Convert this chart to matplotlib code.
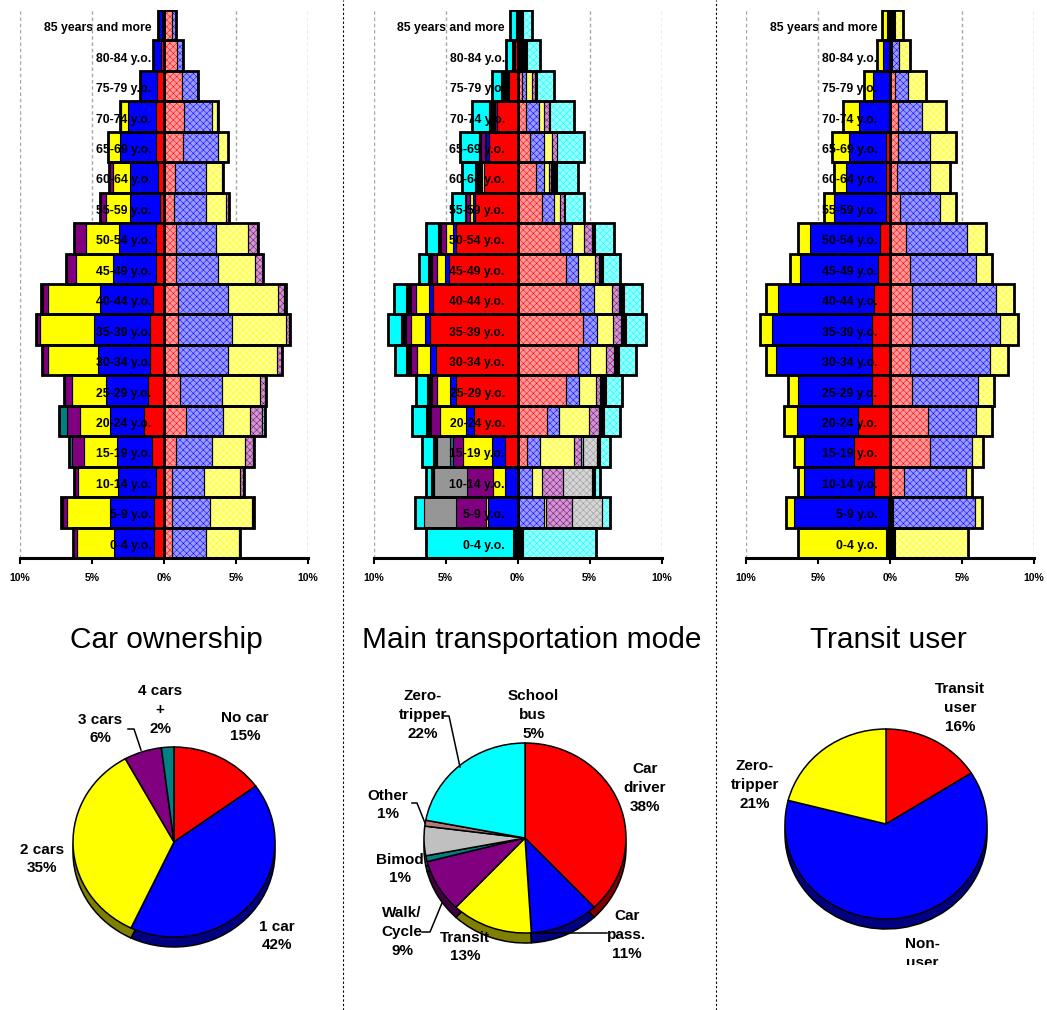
import numpy as np
import matplotlib
matplotlib.use("Agg")
import matplotlib.pyplot as plt
from matplotlib.lines import Line2D
from matplotlib.colors import to_rgb

plt.rcParams['font.family'] = ['Liberation Sans', 'DejaVu Sans']
plt.rcParams['hatch.linewidth'] = 0.35

W, H = 1047, 1010
fig = plt.figure(figsize=(W / 100, H / 100), dpi=100)

# ---------------------------------------------------------------- data
age_groups = ["0-4 y.o.", "5-9 y.o.", "10-14 y.o.", "15-19 y.o.", "20-24 y.o.",
              "25-29 y.o.", "30-34 y.o.", "35-39 y.o.", "40-44 y.o.", "45-49 y.o.",
              "50-54 y.o.", "55-59 y.o.", "60-64 y.o.", "65-69 y.o.", "70-74 y.o.",
              "75-79 y.o.", "80-84 y.o.", "85 years and more"]
tick_values = [-10, -5, 0, 5, 10]
tick_labels = ["10%", "5%", "0%", "5%", "10%"]

# Car ownership by age (% of population), left = men, right = women
own_left_nocar = [0.69, 0.69, 0.55, 0.81, 1.39, 1.09, 0.97, 0.97, 0.79, 0.55, 0.55, 0.28, 0.39, 0.55, 0.55, 0.50, 0.23, 0.16]
own_left_1car = [2.78, 3.06, 2.61, 2.43, 2.36, 2.94, 3.63, 3.89, 3.66, 2.96, 2.55, 2.08, 1.97, 2.50, 1.92, 1.16, 0.50, 0.23]
own_left_2cars = [2.59, 3.01, 2.78, 2.31, 2.08, 2.38, 3.43, 3.75, 3.59, 2.59, 2.31, 1.67, 1.20, 0.81, 0.53, 0, 0, 0]
own_left_3cars = [0.23, 0.23, 0.23, 0.86, 0.93, 0.46, 0.39, 0.23, 0.39, 0.65, 0.83, 0.42, 0.23, 0, 0, 0, 0, 0]
own_left_4cars = [0, 0, 0, 0.16, 0.51, 0, 0, 0, 0, 0, 0, 0, 0, 0, 0, 0, 0, 0]
own_left_na = [0, 0.13, 0.08, 0, 0, 0.08, 0.08, 0.08, 0.08, 0.08, 0, 0, 0, 0.04, 0.05, 0, 0, 0.04]

own_right_nocar = [0.53, 0.53, 0.53, 0.83, 1.53, 1.11, 1.00, 1.00, 1.00, 0.83, 0.83, 0.69, 0.76, 1.34, 1.41, 1.23, 0.88, 0.58]
own_right_1car = [2.38, 2.66, 2.27, 2.48, 2.59, 2.89, 3.47, 3.70, 3.47, 2.94, 2.78, 2.22, 2.15, 2.43, 1.90, 1.16, 0.42, 0.23]
own_right_2cars = [2.31, 2.89, 2.48, 2.31, 1.85, 2.66, 3.36, 3.77, 3.43, 2.55, 2.25, 1.39, 1.09, 0.65, 0.40, 0, 0, 0]
own_right_3cars = [0, 0, 0.23, 0.58, 0.81, 0.35, 0.35, 0.23, 0.46, 0.58, 0.63, 0.23, 0, 0, 0, 0, 0, 0]
own_right_4cars = [0, 0, 0, 0, 0.23, 0, 0, 0, 0.10, 0, 0, 0, 0.08, 0, 0, 0, 0, 0]
own_right_na = [0.06, 0.20, 0.08, 0.04, 0, 0.08, 0, 0.08, 0.03, 0, 0.04, 0, 0, 0, 0.04, 0, 0.05, 0.04]

# Main transportation mode by age
mode_left_driver = [0, 0, 0, 0.90, 2.99, 4.30, 5.65, 6.10, 5.85, 4.79, 4.26, 2.94, 2.31, 1.97, 1.39, 0.58, 0.16, 0]
mode_left_pass = [0, 2.05, 0.90, 0.85, 0.58, 0.37, 0.42, 0.35, 0.32, 0.23, 0.23, 0.12, 0, 0.19, 0, 0, 0, 0]
mode_left_transit = [0, 0.15, 0.82, 2.05, 1.80, 0.93, 0.93, 0.93, 0.85, 0.58, 0.50, 0.23, 0.19, 0.10, 0, 0, 0, 0]
mode_left_walk = [0, 2.05, 1.80, 0.68, 0.65, 0.37, 0.37, 0.35, 0.35, 0.37, 0.30, 0.28, 0, 0.25, 0.19, 0, 0, 0]
mode_left_bimod = [0, 0, 0, 0.20, 0, 0, 0, 0, 0, 0, 0, 0, 0, 0, 0, 0, 0, 0]
mode_left_school = [0, 2.25, 2.25, 0.92, 0, 0, 0, 0, 0, 0, 0, 0, 0, 0, 0, 0, 0, 0]
mode_left_other = [0] * 18
mode_left_na = [0.28, 0, 0.22, 0.25, 0.32, 0.32, 0.39, 0.35, 0.39, 0.23, 0.25, 0.10, 0.45, 0.15, 0.39, 0.58, 0.23, 0.10]
mode_left_zero = [6.06, 0.65, 0.35, 0.79, 1.00, 0.75, 0.76, 0.90, 0.80, 0.63, 0.79, 0.88, 0.92, 1.30, 1.16, 0.62, 0.39, 0.42]

mode_right_driver = [0, 0, 0, 0.63, 2.08, 3.38, 4.17, 4.58, 4.35, 3.38, 2.92, 1.69, 1.27, 0.88, 0.60, 0.30, 0, 0]
mode_right_pass = [0, 1.81, 1.00, 0.95, 0.82, 0.87, 0.89, 0.97, 0.98, 0.81, 0.86, 0.86, 0.60, 0.97, 0.86, 0.30, 0, 0]
mode_right_transit = [0, 0.20, 0.72, 2.31, 2.05, 1.20, 1.10, 1.10, 1.25, 1.20, 0.81, 0.37, 0.35, 0.53, 0.35, 0.39, 0, 0]
mode_right_walk = [0, 1.74, 1.45, 0.53, 0.68, 0.28, 0.51, 0.51, 0.46, 0.30, 0.58, 0.30, 0.10, 0.39, 0.35, 0.23, 0, 0]
mode_right_bimod = [0, 0, 0, 0.15, 0, 0, 0, 0, 0, 0, 0, 0, 0, 0, 0, 0, 0, 0]
mode_right_school = [0, 2.12, 1.97, 0.95, 0, 0, 0, 0, 0, 0, 0, 0, 0, 0, 0, 0, 0, 0]
mode_right_other = [0] * 18
mode_right_na = [0.37, 0, 0.23, 0.22, 0.39, 0.42, 0.35, 0.35, 0.39, 0.23, 0.23, 0.10, 0.45, 0, 0.10, 0.10, 0.65, 0.37]
mode_right_zero = [5.07, 0.57, 0.35, 0.70, 1.10, 1.10, 1.20, 1.40, 1.25, 1.20, 1.32, 1.32, 1.45, 1.85, 1.67, 1.20, 0.88, 0.63]

# Transit use by age
tu_left_na = [0.30, 0.16, 0, 0, 0, 0, 0, 0, 0, 0, 0, 0, 0, 0, 0, 0, 0.10, 0.23]
tu_left_user = [0, 0, 1.11, 2.48, 2.25, 1.23, 1.23, 1.23, 1.11, 0.81, 0.69, 0.28, 0.28, 0.28, 0.05, 0, 0, 0]
tu_left_non = [0, 6.50, 4.84, 3.47, 4.24, 5.19, 6.69, 6.94, 6.64, 5.44, 4.86, 3.61, 2.78, 2.55, 2.13, 1.20, 0.42, 0]
tu_left_zero = [6.06, 0.56, 0.42, 0.72, 0.88, 0.65, 0.69, 0.86, 0.86, 0.69, 0.81, 0.69, 0.83, 1.18, 1.06, 0.60, 0.35, 0.30]

tu_right_na = [0.35, 0.19, 0, 0, 0, 0, 0, 0, 0, 0, 0, 0, 0, 0, 0, 0, 0.15, 0.35]
tu_right_user = [0, 0, 0.97, 2.78, 2.66, 1.55, 1.39, 1.55, 1.55, 1.39, 1.11, 0.69, 0.46, 0.58, 0.58, 0.35, 0, 0]
tu_right_non = [0, 5.72, 4.31, 2.94, 3.31, 4.54, 5.56, 6.09, 5.81, 4.58, 4.21, 2.78, 2.31, 2.20, 1.67, 0.93, 0.45, 0]
tu_right_zero = [5.09, 0.46, 0.39, 0.72, 1.09, 1.13, 1.27, 1.27, 1.25, 1.13, 1.34, 1.11, 1.39, 1.78, 1.62, 1.20, 0.80, 0.58]

# Pie shares (%)
car_names = ["No car", "1 car", "2 cars", "3 cars", "4 cars\n+"]
car_share = [15, 42, 35, 6, 2]
mode_names = ["Car\ndriver", "Car\npass.", "Transit", "Walk/\nCycle", "Bimod",
              "School\nbus", "Other", "Zero-\ntripper"]
mode_share = [38, 11, 13, 9, 1, 5, 1, 22]
tu_names = ["Transit\nuser", "Non-\nuser", "Zero-\ntripper"]
tu_share = [16, 63, 21]

# ---------------------------------------------------------------- styles
RED, BLUE, YELLOW, PURPLE = "#FF0000", "#0000FF", "#FFFF00", "#800080"
TEAL, CYAN, GRAY, BLACK = "#008080", "#00FFFF", "#969696", "#000000"
ROSY = "#B07A7A"
LIGHTGRAY = "#C0C0C0"


def tint(c, f=0.6):
    r, g, b = to_rgb(c)
    return (f + (1 - f) * r, f + (1 - f) * g, f + (1 - f) * b)


def shade(c, f=0.5):
    r, g, b = to_rgb(c)
    return (r * f, g * f, b * f)


def px_fig(x, y):
    return x / W, 1 - y / H


def draw_pyramid(x_left, left_series, right_series, colors):
    x0, y0 = px_fig(x_left, 558)
    ax = fig.add_axes([x0, y0, 288 / W, 548 / H])
    y = np.arange(len(age_groups))
    for sign, series in ((-1, left_series), (1, right_series)):
        start = np.zeros(len(y))
        for vals, col in zip(series, colors):
            vals = np.asarray(vals, float)
            m = vals > 0
            if m.any():
                if sign < 0 or col == BLACK:
                    ax.barh(y[m], sign * vals[m], left=sign * start[m], height=1.0,
                            color=col, edgecolor="black", linewidth=0.8, zorder=2)
                else:
                    # women: dithered lighter fill
                    ax.barh(y[m], sign * vals[m], left=sign * start[m], height=1.0,
                            color=tint(col), edgecolor=col, hatch="xxxxx",
                            linewidth=0, zorder=2)
                    ax.barh(y[m], sign * vals[m], left=sign * start[m], height=1.0,
                            fill=False, edgecolor="black", linewidth=0.8, zorder=3)
            start = start + vals
        ax.barh(y, sign * start, height=1.0, fill=False, edgecolor="black",
                linewidth=2.0, zorder=4)
    for yi, lab in zip(y, age_groups):
        ax.text(-0.88, yi - 0.1, lab, ha="right", va="center", fontsize=8.8,
                fontweight="bold", color="black", zorder=6)
    for xv in (-10, -5, 5, 10):
        ax.axvline(xv, color="#a8a8a8", lw=1.0, ls=(0, (2.5, 2)), zorder=0)
    ax.set_xlim(-10, 10)
    ax.set_ylim(-0.5, len(age_groups) - 0.5)
    ax.set_yticks([])
    ax.set_xticks(tick_values)
    ax.set_xticklabels(tick_labels, fontsize=7.5, fontweight="bold")
    ax.tick_params(axis="x", length=4, width=1.5, pad=6.5, color="black")
    for s in ("top", "left", "right"):
        ax.spines[s].set_visible(False)
    ax.spines["bottom"].set_linewidth(2.2)
    ax.patch.set_alpha(0)
    return ax


draw_pyramid(20,
             [own_left_nocar, own_left_1car, own_left_2cars, own_left_3cars, own_left_4cars, own_left_na],
             [own_right_nocar, own_right_1car, own_right_2cars, own_right_3cars, own_right_4cars, own_right_na],
             [RED, BLUE, YELLOW, PURPLE, TEAL, BLACK])
draw_pyramid(373.5,
             [mode_left_driver, mode_left_pass, mode_left_transit, mode_left_walk, mode_left_bimod,
              mode_left_school, mode_left_other, mode_left_na, mode_left_zero],
             [mode_right_driver, mode_right_pass, mode_right_transit, mode_right_walk, mode_right_bimod,
              mode_right_school, mode_right_other, mode_right_na, mode_right_zero],
             [RED, BLUE, YELLOW, PURPLE, TEAL, GRAY, ROSY, BLACK, CYAN])
draw_pyramid(746,
             [tu_left_na, tu_left_user, tu_left_non, tu_left_zero],
             [tu_right_na, tu_right_user, tu_right_non, tu_right_zero],
             [BLACK, RED, BLUE, YELLOW])

# ---------------------------------------------------------------- titles
for cx, title in ((166.5, "Car ownership"), (531.5, "Main transportation mode"),
                  (888.5, "Transit user")):
    fig.text(*px_fig(cx, 648), title, ha="center", va="baseline", fontsize=21.5)

# panel separators
for xs in (343, 716):
    fig.add_artist(Line2D([xs / W, xs / W], [0, 1], transform=fig.transFigure,
                          color="black", lw=0.8, ls=(0, (2, 2))))

# ---------------------------------------------------------------- pies
RX, RY, DEPTH = 101.0, 95.0, 10.0
K = RY / RX
PIE_TOP, PIE_BOTTOM = 660, 965


def draw_pie(x0, x1, center, values, colors):
    fx, fy = px_fig(x0, PIE_BOTTOM)
    ax = fig.add_axes([fx, fy, (x1 - x0) / W, (PIE_BOTTOM - PIE_TOP) / H])
    cx, cy = center
    wp = dict(edgecolor="black", linewidth=1.1)
    ax.pie(values, colors=[shade(c) for c in colors], startangle=90, counterclock=False,
           center=(cx, (H - cy - DEPTH) / K), radius=RX, wedgeprops=wp)
    ax.pie(values, colors=colors, startangle=90, counterclock=False,
           center=(cx, (H - cy) / K), radius=RX, wedgeprops=wp)
    ax.set_aspect("auto")
    ax.set_xlim(x0, x1)
    ax.set_ylim((H - PIE_BOTTOM) / K, (H - PIE_TOP) / K)
    ax.axis("off")
    return ax


def pie_label(text, x, y, ax=None):
    kw = dict(ha="center", va="center", ma="center", fontsize=11,
              fontweight="bold", linespacing=1.45)
    if ax is None:
        fig.text(*px_fig(x, y), text, **kw)
    else:
        ax.text(*px_fig(x, y), text, transform=fig.transFigure, clip_on=True, **kw)


def leader(points):
    xs = [p[0] / W for p in points]
    ys = [1 - p[1] / H for p in points]
    fig.add_artist(Line2D(xs, ys, transform=fig.transFigure, color="black", lw=1.1))


draw_pie(0, 340, (174, 842), car_share, [RED, BLUE, YELLOW, PURPLE, TEAL])
car_pos = [(245, 727), (277, 936), (42, 859), (100, 729), (160, 710)]
for name, v, (x, y) in zip(car_names, car_share, car_pos):
    pie_label(f"{name}\n{v}%", x, y)
leader([(128, 729), (134, 729), (141, 750)])

draw_pie(345, 712, (525, 838), mode_share,
         [RED, BLUE, YELLOW, PURPLE, TEAL, LIGHTGRAY, ROSY, CYAN])
mode_pos = [(645, 788), (627, 935), (465, 947), (402, 932), (400, 869),
            (533, 715), (388, 805), (423, 715)]
for name, v, (x, y) in zip(mode_names, mode_share, mode_pos):
    pie_label(f"{name}\n{v}%", x, y)
leader([(444, 716), (449, 716), (460, 767)])
leader([(412, 803), (417, 803), (425, 823)])
leader([(422, 932), (430, 932), (442, 903)])
leader([(537, 933), (607, 933)])

ax3 = draw_pie(720, W, (886, 824), tu_share, [RED, BLUE, YELLOW])
tu_pos = [(960, 708), (922, 963), (755, 785)]
for i, (name, v, (x, y)) in enumerate(zip(tu_names, tu_share, tu_pos)):
    pie_label(f"{name}\n{v}%", x, y, ax=ax3 if i == 1 else None)

fig.savefig("out.png", dpi=100, facecolor="white")
